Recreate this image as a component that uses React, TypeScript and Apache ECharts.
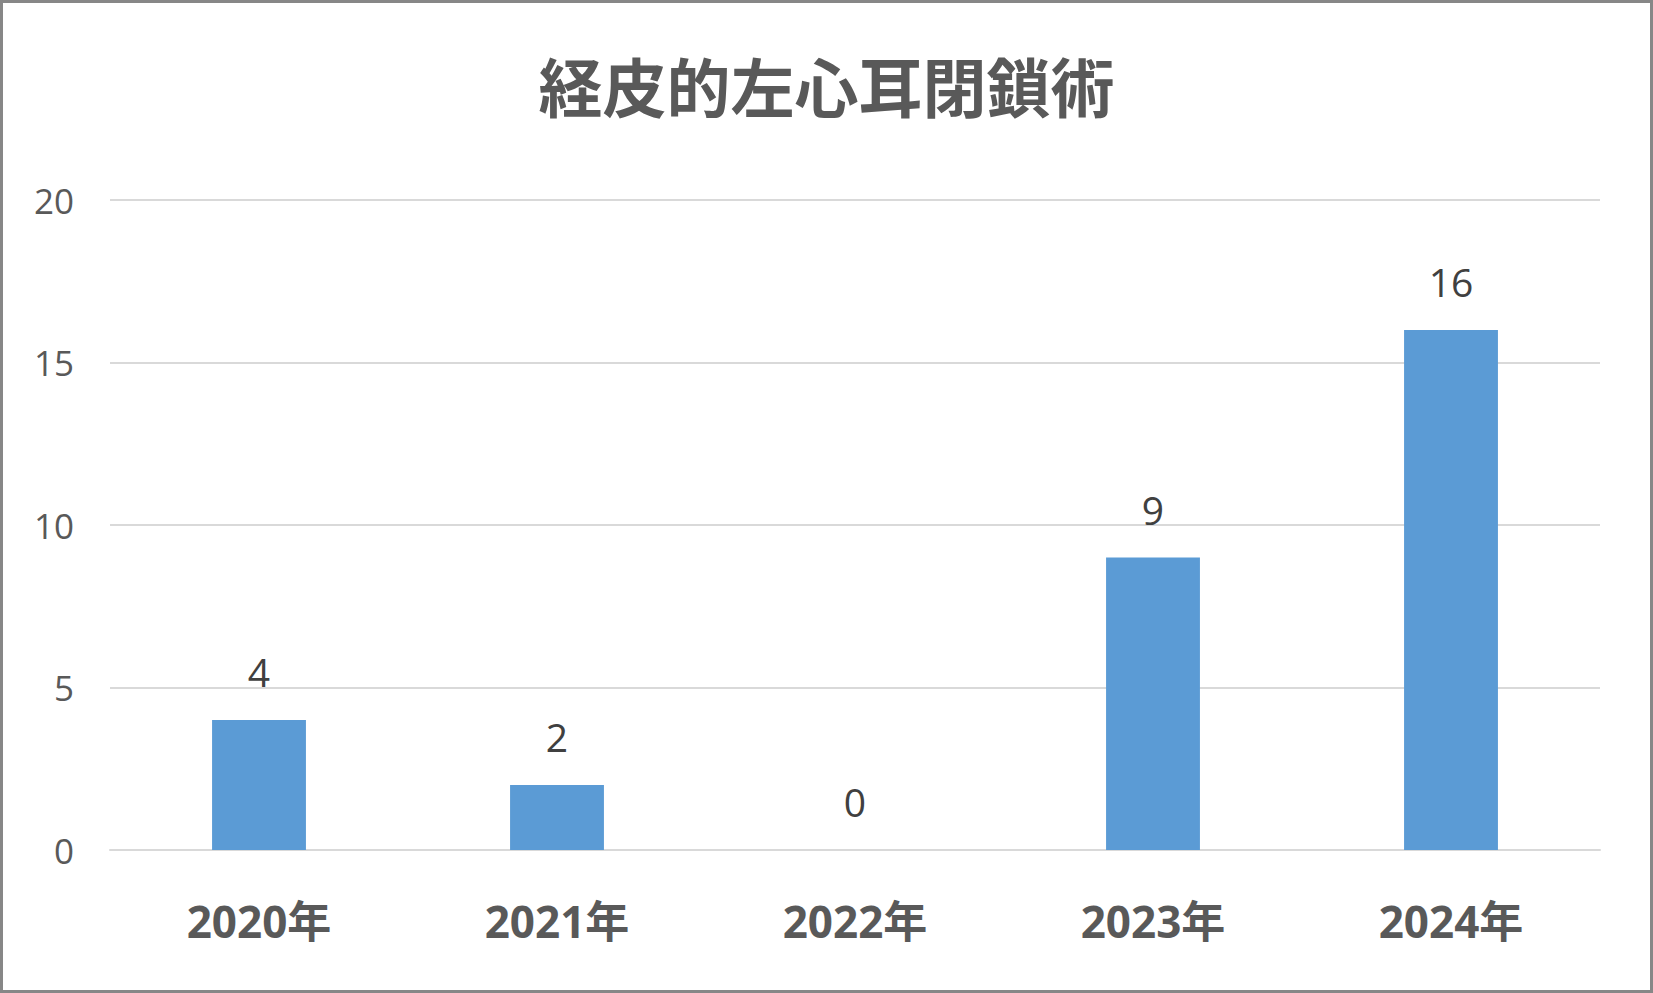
import React, { useEffect, useRef } from "react";
import * as echarts from "echarts";

const titleText = "経皮的左心耳閉鎖術";
const categories = ["2020年", "2021年", "2022年", "2023年", "2024年"];
const values = [4, 2, 0, 9, 16];
const yMin = 0;
const yMax = 20;
const yInterval = 5;

const FONT = "'Open Sans', 'Noto Sans CJK JP', sans-serif";

export default function App() {
  const ref = useRef<HTMLDivElement>(null);
  useEffect(() => {
    if (!ref.current) return;
    const chart = echarts.init(ref.current, undefined, { renderer: "svg" });
    chart.setOption({
      animation: false,
      backgroundColor: "#ffffff",
      title: {
        text: titleText,
        left: "center",
        top: 44,
        textStyle: {
          fontFamily: "'Noto Sans CJK JP', sans-serif",
          fontSize: 64,
          fontWeight: "bold",
          color: "#595959",
        },
      },
      grid: { left: 107, right: 50, top: 197, bottom: 140, containLabel: false },
      xAxis: {
        type: "category",
        data: categories,
        axisLine: { show: true, lineStyle: { color: "#d9d9d9", width: 2 } },
        axisTick: { show: false },
        axisLabel: {
          margin: 49,
          fontFamily: FONT,
          fontSize: 44,
          fontWeight: "bold",
          color: "#595959",
        },
      },
      yAxis: {
        type: "value",
        min: yMin,
        max: yMax,
        interval: yInterval,
        axisLine: { show: false },
        axisTick: { show: false },
        splitLine: { lineStyle: { color: "#d9d9d9", width: 2 } },
        axisLabel: {
          margin: 36,
          fontFamily: FONT,
          fontSize: 35,
          color: "#595959",
        },
      },
      series: [
        {
          type: "bar",
          data: values,
          barWidth: "31.5%",
          itemStyle: { color: "#5b9bd5" },
          label: {
            show: true,
            position: "top",
            distance: 29,
            fontFamily: FONT,
            fontSize: 39,
            color: "#404040",
          },
        },
      ],
    });
    return () => chart.dispose();
  }, []);
  return (
    <div
      style={{
        position: "fixed",
        left: 0,
        top: 0,
        width: 1653,
        height: 993,
        boxSizing: "border-box",
        border: "3px solid #878787",
        background: "#fff",
      }}
    >
      <div ref={ref} style={{ width: 1647, height: 987 }} />
    </div>
  );
}
